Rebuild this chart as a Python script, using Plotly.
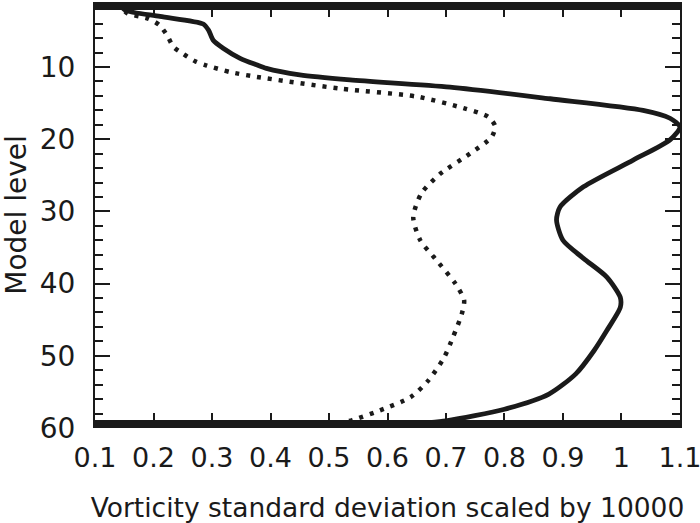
import plotly.graph_objects as go

# Solid curve (level, value)
solid_level = [1, 2.1, 3.0, 4.05, 4.9, 6.3, 7.4, 8.8, 9.7, 10.2, 11.1, 11.8, 12.8, 14.4, 16.0, 17.1, 18.3,
               20.1, 22.9, 26.6, 29.4, 31.2, 34.0, 36.5, 39.1, 41.9, 43.3, 46.5, 49.3, 52.5, 55.3, 57.4,
               59.0, 59.5, 60]
solid_value = [0.14, 0.151, 0.211, 0.285, 0.294, 0.302, 0.319, 0.348, 0.376, 0.393, 0.45, 0.536, 0.707,
               0.878, 1.037, 1.083, 1.1, 1.083, 1.02, 0.935, 0.895, 0.889, 0.9, 0.935, 0.975, 0.998, 0.998,
               0.975, 0.953, 0.922, 0.876, 0.8, 0.7, 0.647, 0.62]

# Dotted curve (level, value)
dotted_level = [1, 2.5, 3.3, 4.2, 5.6, 7.2, 8.2, 9.2, 9.8, 10.7, 11.3, 13.0, 14.1, 15.7, 16.9, 18.2, 19.7,
                22.0, 24.8, 27.5, 30.8, 34.0, 36.5, 40.0, 42.3, 44.2, 47.4, 50.2, 53.4, 55.7, 57.6, 58.9,
                59.4, 60]
dotted_value = [0.14, 0.154, 0.191, 0.21, 0.223, 0.234, 0.251, 0.271, 0.291, 0.331, 0.371, 0.519, 0.65,
                0.73, 0.772, 0.784, 0.778, 0.741, 0.69, 0.658, 0.644, 0.656, 0.681, 0.716, 0.731, 0.727,
                0.712, 0.697, 0.67, 0.64, 0.586, 0.54, 0.518, 0.5]

x_ticks = [0.1, 0.2, 0.3, 0.4, 0.5, 0.6, 0.7, 0.8, 0.9, 1.0, 1.1]
x_tick_labels = ["0.1", "0.2", "0.3", "0.4", "0.5", "0.6", "0.7", "0.8", "0.9", "1", "1.1"]
y_ticks = [10, 20, 30, 40, 50, 60]

FONT = "DejaVu Sans"
INK = "#1a1a1a"

fig = go.Figure()
fig.add_trace(go.Scatter(x=solid_value, y=solid_level, mode="lines",
                         line=dict(color=INK, width=4.8, shape="spline", smoothing=0.7),
                         showlegend=False, hoverinfo="skip"))
fig.add_trace(go.Scatter(x=dotted_value, y=dotted_level, mode="lines",
                         line=dict(color=INK, width=4.5, dash="4px,7px", shape="spline", smoothing=0.7),
                         showlegend=False, hoverinfo="skip"))

# thick top / bottom frame bands
for anchor, y1 in [(1, -8), (0, 8)]:
    fig.add_shape(type="rect", xref="paper", yref="paper", x0=0, x1=1,
                  ysizemode="pixel", yanchor=anchor, y0=0, y1=y1,
                  fillcolor=INK, line=dict(width=0), layer="above")

fig.update_layout(
    width=700, height=523,
    margin=dict(l=95, r=20, t=2, b=95),
    paper_bgcolor="white", plot_bgcolor="white",
    font=dict(family=FONT, size=27, color=INK),
    xaxis=dict(range=[0.0999, 1.1001], tickvals=x_ticks, ticktext=x_tick_labels,
               ticks="inside", ticklen=15, tickwidth=2, tickcolor=INK,
               showline=False, mirror="ticks", showgrid=False, zeroline=False,
               tickfont=dict(size=27), ticklabelstandoff=11, ticklabeloverflow="allow",
               title=dict(text="Vorticity standard deviation scaled by 10000",
                          font=dict(size=26.5), standoff=27),
               automargin=False),
    yaxis=dict(range=[60, 1], tickvals=y_ticks,
               ticks="inside", ticklen=15, tickwidth=2, tickcolor=INK,
               minor=dict(dtick=2, tick0=0, ticks="inside", ticklen=8, tickwidth=2, tickcolor=INK),
               showline=True, linewidth=2, linecolor=INK, mirror="ticks",
               showgrid=False, zeroline=False,
               tickfont=dict(size=28), ticklabelstandoff=12,
               title=dict(text="Model level", font=dict(size=28), standoff=42),
               automargin=False),
)

fig.write_html("out.html", config={"displayModeBar": False},
               post_script="document.body.style.margin='0';")
